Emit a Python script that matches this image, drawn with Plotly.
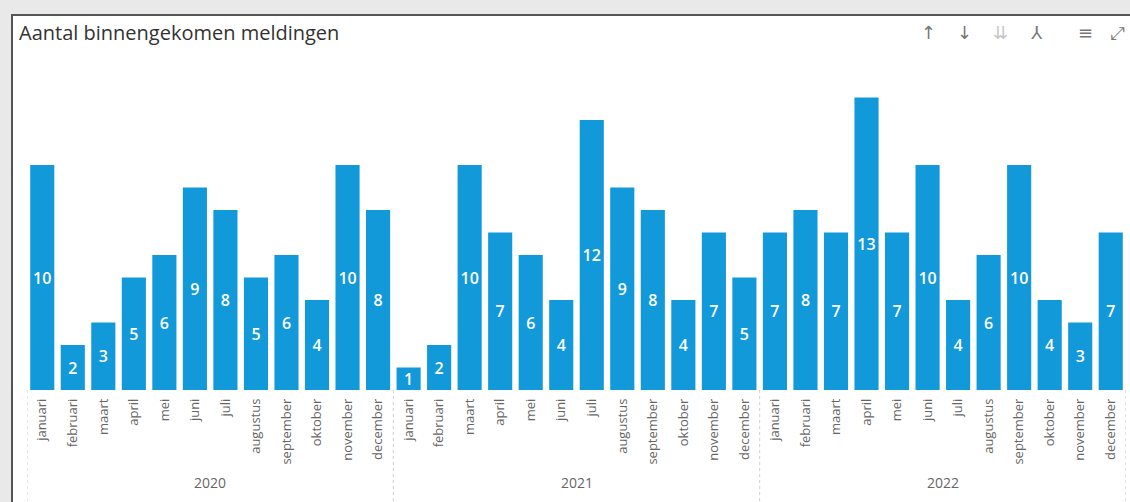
import plotly.graph_objects as go

years = ["2020", "2021", "2022"]
months = ["januari", "februari", "maart", "april", "mei", "juni", "juli",
          "augustus", "september", "oktober", "november", "december"]
values_2020 = [10, 2, 3, 5, 6, 9, 8, 5, 6, 4, 10, 8]
values_2021 = [1, 2, 10, 7, 6, 4, 12, 9, 8, 4, 7, 5]
values_2022 = [7, 8, 7, 13, 7, 10, 4, 6, 10, 4, 3, 7]
title_text = "Aantal binnengekomen meldingen"

all_values = values_2020 + values_2021 + values_2022
n = len(all_values)
xs = list(range(n))
tick_text = months * len(years)

W, H = 1130, 502
ML, MR, MT, MB = 27, 4, 70, 112
PW = W - ML - MR
PH = H - MT - MB

def px(x):
    return (x - ML) / PW

def py(y):
    return (H - MB - y) / PH

BAR = "#1199DA"
GRAY_TXT = "#666666"
FONT = "Open Sans"

fig = go.Figure()
fig.add_trace(go.Bar(
    x=xs, y=all_values,
    marker=dict(color=BAR, line=dict(width=0)),
    text=[str(v) for v in all_values],
    textposition="inside",
    insidetextanchor="middle",
    textangle=0,
    textfont=dict(color="white", size=16, family=FONT, weight=600),
    hoverinfo="skip",
))

shapes = []
# outer gray strips and frame
shapes.append(dict(type="rect", xref="paper", yref="paper",
                   x0=px(0), x1=px(W), y0=py(0), y1=py(14),
                   fillcolor="#E9E9E9", line=dict(width=0), layer="below"))
shapes.append(dict(type="rect", xref="paper", yref="paper",
                   x0=px(0), x1=px(11), y0=py(0), y1=py(H),
                   fillcolor="#E9E9E9", line=dict(width=0), layer="below"))
shapes.append(dict(type="line", xref="paper", yref="paper",
                   x0=px(11), x1=px(W), y0=py(15), y1=py(15),
                   line=dict(color="#555555", width=2)))
shapes.append(dict(type="line", xref="paper", yref="paper",
                   x0=px(12), x1=px(12), y0=py(14), y1=py(H),
                   line=dict(color="#555555", width=2)))
# year separators
for k in range(len(years) + 1):
    xv = k * len(months) - 0.5
    shapes.append(dict(type="line", xref="x", yref="paper",
                       x0=xv, x1=xv, y0=0, y1=py(H),
                       line=dict(color="#CFCFCF", width=1, dash="dot")))

annotations = [dict(text=title_text, xref="paper", yref="paper",
                    x=px(17), y=py(32), xanchor="left", yanchor="middle",
                    showarrow=False,
                    font=dict(family=FONT, size=20, color="#333333"))]
for k, yr in enumerate(years):
    annotations.append(dict(text=yr, xref="x", yref="paper",
                            x=k * len(months) + (len(months) - 1) / 2,
                            y=py(482), xanchor="center", yanchor="middle",
                            showarrow=False,
                            font=dict(family=FONT, size=14, color=GRAY_TXT)))
icons = [("↑", 928, "#777777"), ("↓", 964, "#777777"), ("⇊", 1000, "#C8C8C8"),
         ("⅄", 1037, "#777777"), ("≡", 1085, "#777777"), ("⤢", 1117, "#777777")]
for ch, xx, col in icons:
    annotations.append(dict(text=ch, xref="paper", yref="paper",
                            x=px(xx), y=py(33), xanchor="center", yanchor="middle",
                            showarrow=False,
                            font=dict(family="DejaVu Sans", size=18, color=col)))

fig.update_layout(
    width=W, height=H,
    margin=dict(l=ML, r=MR, t=MT, b=MB, pad=0),
    paper_bgcolor="white", plot_bgcolor="white",
    bargap=0.21,
    showlegend=False,
    shapes=shapes,
    annotations=annotations,
    uniformtext=dict(minsize=16, mode="show"),
    xaxis=dict(
        tickmode="array", tickvals=xs, ticktext=tick_text,
        tickangle=-90, range=[-0.5, n - 0.5],
        showgrid=False, zeroline=False, showline=False,
        ticks="", ticklabelstandoff=5,
        tickfont=dict(family=FONT, size=13, color=GRAY_TXT),
        fixedrange=True,
    ),
    yaxis=dict(
        range=[0, PH / 22.5], visible=False, showgrid=False, zeroline=False,
        fixedrange=True,
    ),
)

fig.write_html("out.html", config={"displayModeBar": False},
               post_script="document.body.style.margin='0';document.body.style.overflow='hidden';")
